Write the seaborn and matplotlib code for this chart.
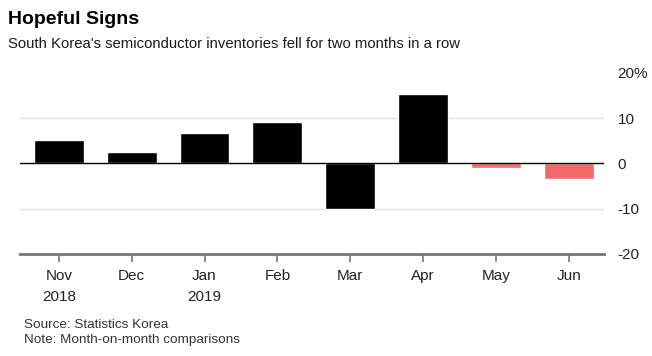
import pandas as pd
import matplotlib.pyplot as plt
import seaborn as sns

months = ['Nov', 'Dec', 'Jan', 'Feb', 'Mar', 'Apr', 'May', 'Jun']
month_labels = ['Nov\n2018', 'Dec', 'Jan\n2019', 'Feb', 'Mar', 'Apr', 'May', 'Jun']
change_pct = [5.1, 2.5, 6.7, 9.2, -10.0, 15.4, -1.0, -3.4]
highlight = ['past', 'past', 'past', 'past', 'past', 'past', 'recent', 'recent']

sns.set_style('white')
plt.rcParams['font.family'] = ['Liberation Sans', 'DejaVu Sans']
plt.rcParams['xtick.bottom'] = True
plt.rcParams['xtick.major.size'] = 6
plt.rcParams['xtick.major.width'] = 1.2

df = pd.DataFrame({'mes': months, 'cambio': change_pct, 'grupo': highlight})

fig = plt.figure(figsize=(6.52, 3.56), dpi=100)
ax = fig.add_axes([0.031, 0.287, 0.895, 0.508])

sns.barplot(data=df, x='mes', y='cambio', hue='grupo',
            palette={'past': '#000000', 'recent': '#f26a6a'},
            width=0.685, dodge=False, legend=False, ax=ax, saturation=1)

ax.set_ylim(-20, 20)
ax.set_xlim(-0.53, 7.48)
ax.set_yticks([-20, -10, 0, 10, 20])
ax.set_yticklabels(['-20', '-10', '0', '10', '20%'])
ax.yaxis.tick_right()
ax.tick_params(axis='y', length=0, pad=10, labelsize=11, colors='#222222')
ax.set_xticks(range(len(months)))
ax.set_xticklabels(month_labels, linespacing=1.6)
ax.tick_params(axis='x', bottom=True, direction='out', length=6, width=1.2,
               color='#777777', pad=5, labelsize=11, labelcolor='#222222')

for y in [10, -10]:
    ax.axhline(y, color='#e3e3e3', lw=1, zorder=0)
ax.axhline(0, color='black', lw=1, zorder=3)

for s in ['top', 'left', 'right']:
    ax.spines[s].set_visible(False)
ax.spines['bottom'].set_color('#777777')
ax.spines['bottom'].set_linewidth(2)
ax.set_xlabel('')
ax.set_ylabel('')

fig.text(0.012, 0.945, 'Hopeful Signs', fontsize=14, fontweight='bold', va='center',
         color='black')
fig.text(0.012, 0.875, "South Korea's semiconductor inventories fell for two months in a row",
         fontsize=10.7, va='center', color='#1a1a1a')
fig.text(0.037, 0.087, 'Source: Statistics Korea', fontsize=9.7, va='center', color='#333333')
fig.text(0.037, 0.045, 'Note: Month-on-month comparisons', fontsize=9.7, va='center', color='#333333')

fig.savefig('out.png', dpi=100)
